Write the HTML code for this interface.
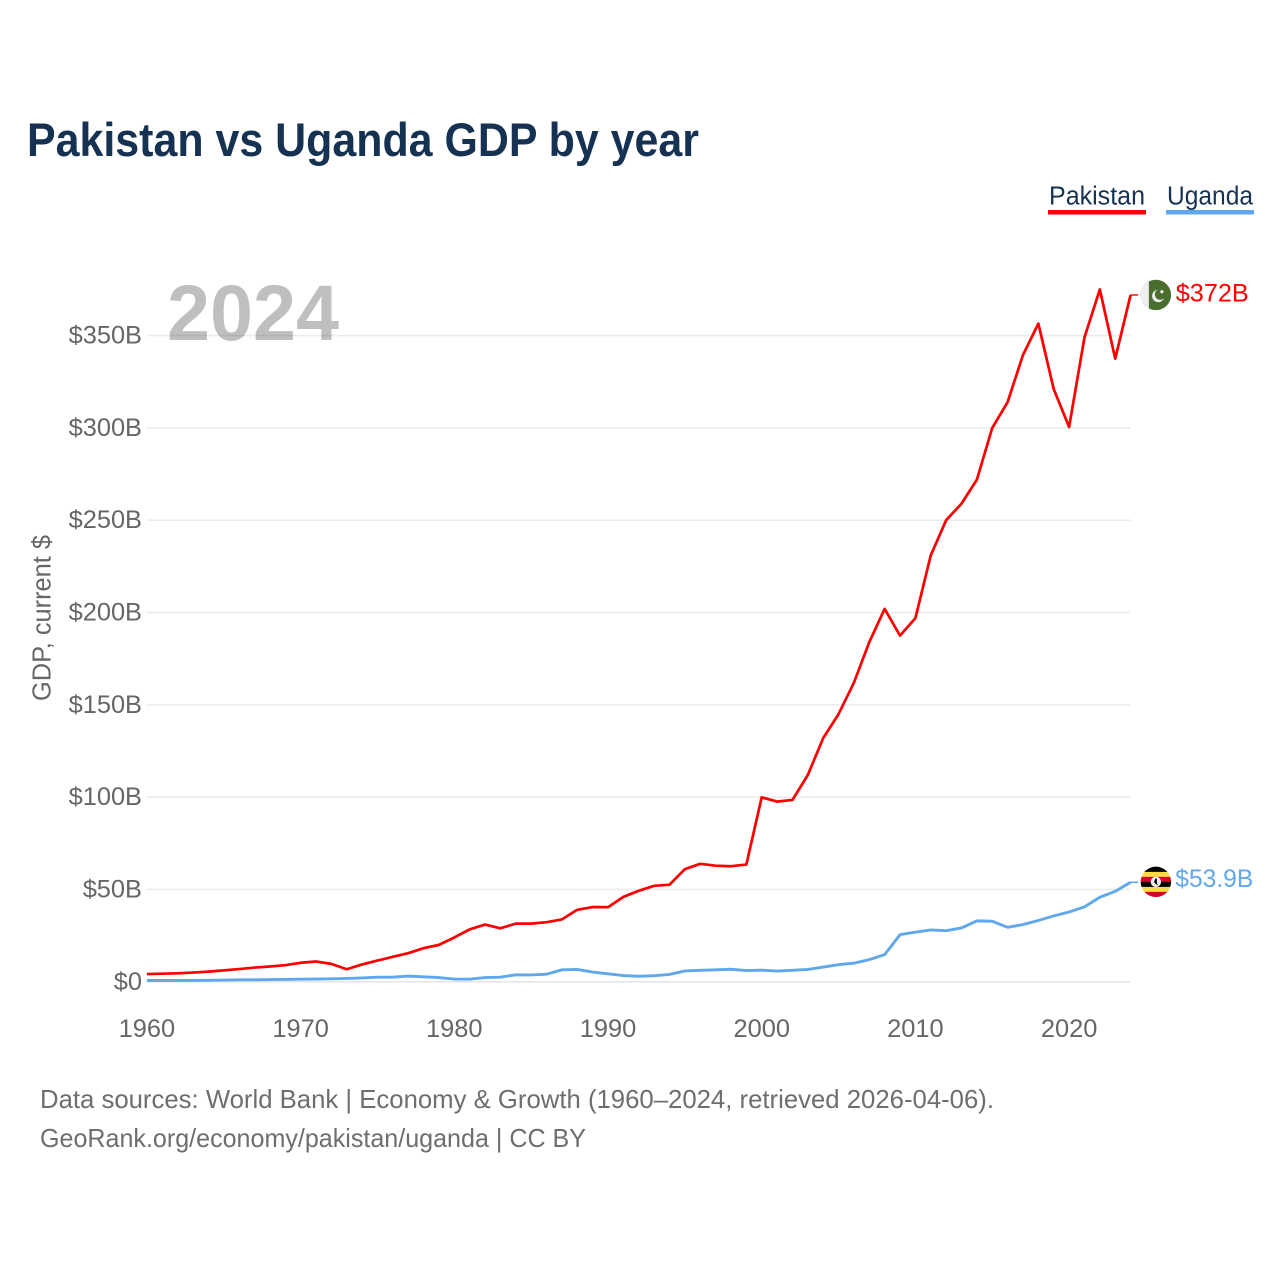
<!DOCTYPE html>
<html lang="en">
<head>
<meta charset="utf-8">
<title>Pakistan vs Uganda GDP by year</title>
<style>
html,body{margin:0;padding:0;background:#fff;}
svg{display:block;font-family:"Liberation Sans",sans-serif;}
</style>
</head>
<body>
<svg id="chart" xmlns="http://www.w3.org/2000/svg" width="1280" height="1280" viewBox="0 0 1280 1280">
  <rect x="0" y="0" width="1280" height="1280" fill="#ffffff"/>
  <text x="27" y="156" font-size="47" font-weight="700" fill="#163253" textLength="672" lengthAdjust="spacingAndGlyphs">Pakistan vs Uganda GDP by year</text>

  <g>
    <text x="1049" y="204.5" font-size="25.5" fill="#163253" textLength="96" lengthAdjust="spacingAndGlyphs">Pakistan</text>
    <rect x="1048" y="210" width="98" height="4.5" fill="#ff0000"/>
  </g>
  <g>
    <text x="1167" y="204.5" font-size="25.5" fill="#163253" textLength="86" lengthAdjust="spacingAndGlyphs">Uganda</text>
    <rect x="1166" y="210" width="88" height="4.5" fill="#60a8ee"/>
  </g>

  <g id="grid"></g>
  <g id="yTicks"></g>
  <g id="xTicks"></g>

  <text transform="translate(50.5,618) rotate(-90)" text-anchor="middle" font-size="25.5" fill="#666666" textLength="166" lengthAdjust="spacingAndGlyphs">GDP, current $</text>
  <text x="167" y="340" font-size="79" font-weight="700" fill="#000000" fill-opacity="0.25" textLength="172" lengthAdjust="spacingAndGlyphs">2024</text>

  <g id="series"></g>

  <defs>
    <clipPath id="flagClip"><circle cx="0" cy="0" r="15.2"/></clipPath>
  </defs>

  <g id="flagPk">
    <g clip-path="url(#flagClip)">
      <rect x="-16" y="-16" width="32" height="32" fill="#496e2d"/>
      <rect x="-16" y="-16" width="9" height="32" fill="#f0f0f0"/>
      <circle cx="2.4" cy="1" r="6.2" fill="#f0f0f0"/>
      <circle cx="4.4" cy="-0.6" r="5.4" fill="#496e2d"/>
      <circle cx="6" cy="-3.2" r="1.6" fill="#f0f0f0"/>
    </g>
  </g>
  <g id="flagUg">
    <g clip-path="url(#flagClip)">
      <rect x="-16" y="-16" width="32" height="6.2" fill="#000000"/>
      <rect x="-16" y="-10" width="32" height="5.2" fill="#ffda44"/>
      <rect x="-16" y="-5" width="32" height="5.2" fill="#d80027"/>
      <rect x="-16" y="0" width="32" height="5.2" fill="#000000"/>
      <rect x="-16" y="5" width="32" height="5.2" fill="#ffda44"/>
      <rect x="-16" y="10" width="32" height="6" fill="#d80027"/>
      <circle cx="0" cy="0" r="5.2" fill="#f0f0f0"/>
      <path d="M-0.6 -3.2 L1 -3.2 L1 1.4 L2.4 3.4 L0 2.2 L-1.8 0.2 Z" fill="#000000"/>
    </g>
  </g>

  <text id="valuePk" font-size="25" fill="#ff0000" textLength="73" lengthAdjust="spacingAndGlyphs"></text>
  <text id="valueUg" font-size="25" fill="#60a8ee" textLength="78" lengthAdjust="spacingAndGlyphs"></text>

  <text x="40" y="1108" font-size="26" fill="#6e6e6e" textLength="954" lengthAdjust="spacingAndGlyphs">Data sources: World Bank | Economy &amp; Growth (1960–2024, retrieved 2026-04-06).</text>
  <text x="40" y="1147" font-size="26" fill="#6e6e6e" textLength="546" lengthAdjust="spacingAndGlyphs">GeoRank.org/economy/pakistan/uganda | CC BY</text>
</svg>

<script>
var startYear = 1960;
var pakistanValues = [4.2,4.4,4.6,5,5.5,6.2,6.9,7.7,8.3,9,10.3,11,9.7,6.8,9.4,11.5,13.5,15.5,18.2,20,24,28.4,31,29,31.5,31.5,32.3,33.8,39,40.5,40.4,46,49.3,52,52.6,61,63.9,62.9,62.6,63.5,99.9,97.6,98.5,112,132,145,162,184,202,187.5,197,231,250,259,272,300,314,339.5,356.5,321,300.5,349,375,337.5,372];
var ugandaValues = [0.7,0.7,0.7,0.75,0.8,0.95,1.05,1.1,1.2,1.3,1.4,1.5,1.6,1.8,2.1,2.5,2.5,3.1,2.7,2.3,1.5,1.4,2.3,2.5,3.8,3.7,4.1,6.5,6.7,5.3,4.3,3.4,3,3.3,4,5.9,6.2,6.5,6.8,6.1,6.3,5.8,6.2,6.7,8,9.3,10.1,12,14.7,25.5,26.9,28.1,27.7,29.2,33,32.8,29.5,31,33.2,35.7,37.8,40.6,45.8,49,53.9];
var yTickValues = [0,50,100,150,200,250,300,350];
var yTickLabels = ["$0","$50B","$100B","$150B","$200B","$250B","$300B","$350B"];
var xTickYears = [1960,1970,1980,1990,2000,2010,2020];
var pakistanValueLabel = "$372B";
var ugandaValueLabel = "$53.9B";

var NS = "http://www.w3.org/2000/svg";
function xScale(year) { return 146.9 + (year - 1960) * 15.37; }
function yScale(value) { return 981.8 - value * 1.8463; }
function make(tag, attrs, parent) {
  var el = document.createElementNS(NS, tag);
  for (var k in attrs) { el.setAttribute(k, attrs[k]); }
  parent.appendChild(el);
  return el;
}

var gridGroup = document.getElementById("grid");
var yGroup = document.getElementById("yTicks");
yTickValues.forEach(function (v, i) {
  var line = make("line", {x1: xScale(1960), x2: xScale(2024), y1: yScale(v), y2: yScale(v), stroke: v === 0 ? "#e6e6e6" : "#ececec", "stroke-width": 1.6}, gridGroup);
  
  
  var label = make("text", {x: 142, y: yScale(v) + 8, "text-anchor": "end", "font-size": 25.4, fill: "#666666"}, yGroup);
  
  
  label.textContent = yTickLabels[i];
});

var xGroup = document.getElementById("xTicks");
xTickYears.forEach(function (year) {
  var label = make("text", {x: xScale(year), y: 1037, "text-anchor": "middle", "font-size": 25.4, fill: "#666666"}, xGroup);
  
  
  label.textContent = year;
});

function linePath(values) {
  return values.map(function (v, i) {
    return (i ? "L" : "M") + xScale(startYear + i).toFixed(2) + " " + yScale(v).toFixed(2);
  }).join(" ");
}
function stubPath(values) {
  var lastX = xScale(startYear + values.length - 1);
  var lastY = yScale(values[values.length - 1]);
  return "M" + lastX.toFixed(2) + " " + lastY.toFixed(2) + " L" + (lastX + 7.5).toFixed(2) + " " + lastY.toFixed(2);
}

var seriesGroup = document.getElementById("series");
var ugandaLine = make("path", {d: linePath(ugandaValues), fill: "none", stroke: "#60a8ee", "stroke-width": 2.9, "stroke-linejoin": "round"}, seriesGroup);


var ugandaStub = make("path", {d: stubPath(ugandaValues), fill: "none", stroke: "#60a8ee", "stroke-width": 1.6}, seriesGroup);


var pakistanLine = make("path", {d: linePath(pakistanValues), fill: "none", stroke: "#ff0000", "stroke-width": 2.7, "stroke-linejoin": "round"}, seriesGroup);


var pakistanStub = make("path", {d: stubPath(pakistanValues), fill: "none", stroke: "#ff0000", "stroke-width": 1.4}, seriesGroup);



var endX = xScale(startYear + pakistanValues.length - 1);
var pkY = yScale(pakistanValues[pakistanValues.length - 1]);
var ugY = yScale(ugandaValues[ugandaValues.length - 1]);
document.getElementById("flagPk").setAttribute("transform", "translate(" + (endX + 25.3) + "," + pkY + ")");
document.getElementById("flagUg").setAttribute("transform", "translate(" + (endX + 25.3) + "," + (ugY - 0.4) + ")");
var vPk = document.getElementById("valuePk");
vPk.setAttribute("x", endX + 45.2);
vPk.setAttribute("y", pkY + 6.5);
vPk.textContent = pakistanValueLabel;
var vUg = document.getElementById("valueUg");
vUg.setAttribute("x", endX + 44.7);
vUg.setAttribute("y", ugY + 4.5);
vUg.textContent = ugandaValueLabel;
</script>
</body>
</html>
